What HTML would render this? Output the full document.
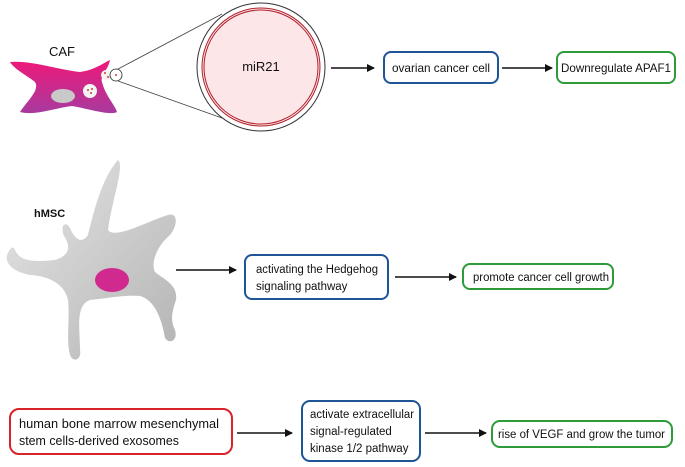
<!DOCTYPE html>
<html><head><meta charset="utf-8"><style>
html,body{margin:0;padding:0;background:#fff;}
svg{display:block;}
text{font-family:"Liberation Sans",sans-serif;fill:#111;}
</style></head><body>
<svg width="685" height="467" viewBox="0 0 685 467" xmlns="http://www.w3.org/2000/svg">
<defs>
<linearGradient id="pk" x1="0" y1="0" x2="0" y2="1">
<stop offset="0" stop-color="#ee1878"/><stop offset="1" stop-color="#a83a9e"/></linearGradient>
<linearGradient id="gr" x1="0" y1="0" x2="1" y2="1">
<stop offset="0" stop-color="#e6e6e6"/><stop offset="1" stop-color="#b4b4b4"/></linearGradient>
<marker id="ah" markerWidth="8" markerHeight="8" refX="7" refY="4" orient="auto" markerUnits="userSpaceOnUse">
<path d="M0,0 L8,4 L0,8 z" fill="#111"/></marker>
</defs>

<!-- CAF -->
<text x="62" y="56" font-size="13" text-anchor="middle">CAF</text>
<path d="M10,62 C30,60 60,70 80,72 C95,70 105,62 110,60 C108,70 100,76 102,82 C105,95 115,105 117,112 C110,116 85,108 72,106 C55,108 35,116 20,112 C28,100 40,90 35,82 C28,76 15,70 10,62 Z" fill="url(#pk)"/>
<ellipse cx="63" cy="96" rx="12" ry="7" fill="#c9c9c9"/>
<circle cx="90" cy="91" r="7" fill="#f3f3f3"/>
<circle cx="88" cy="90" r="0.9" fill="#c00"/><circle cx="91" cy="93" r="0.9" fill="#c00"/><circle cx="92" cy="89" r="0.9" fill="#c00"/>
<circle cx="106" cy="75" r="5" fill="#f3f3f3"/>
<circle cx="105" cy="73" r="0.9" fill="#c00"/><circle cx="108" cy="77" r="0.9" fill="#c00"/>
<circle cx="116" cy="75" r="6" fill="#fff" stroke="#222" stroke-width="0.8"/>
<circle cx="116" cy="75" r="0.9" fill="#c00"/>
<line x1="118" y1="69" x2="222" y2="14" stroke="#444" stroke-width="0.8"/>
<line x1="118" y1="81" x2="222" y2="118" stroke="#444" stroke-width="0.8"/>
<circle cx="261" cy="67" r="64" fill="#fff" stroke="#333" stroke-width="1"/>
<circle cx="261" cy="67" r="59" fill="#fde6e8" stroke="#b01f2a" stroke-width="1"/>
<circle cx="261" cy="67" r="57" fill="none" stroke="#b01f2a" stroke-width="1"/>
<text x="261" y="71" font-size="13" text-anchor="middle">miR21</text>
<line x1="331" y1="68" x2="374" y2="68" stroke="#111" stroke-width="1.5" marker-end="url(#ah)"/>
<rect x="384" y="52" width="114" height="31" rx="7" fill="#fff" stroke="#1f5597" stroke-width="2"/>
<text x="392" y="72" font-size="12" textLength="98" lengthAdjust="spacingAndGlyphs">ovarian cancer cell</text>
<line x1="502" y1="68" x2="552" y2="68" stroke="#111" stroke-width="1.5" marker-end="url(#ah)"/>
<rect x="557" y="52" width="118" height="31" rx="7" fill="#fff" stroke="#2e9b3a" stroke-width="2"/>
<text x="561" y="72" font-size="12" textLength="110" lengthAdjust="spacingAndGlyphs">Downregulate APAF1</text>

<!-- hMSC -->
<text x="34" y="217" font-size="11" font-weight="bold">hMSC</text>
<path d="M118,160 C125,165 112,200 108,230 C115,240 150,220 168,215 C178,212 178,225 170,235 C158,245 150,262 155,272 C165,280 178,285 176,300 C172,312 170,320 175,330 C178,340 170,345 165,338 C162,320 155,300 140,296 C120,295 110,298 90,300 C75,305 80,330 80,350 C82,360 73,363 70,355 C66,340 70,320 68,300 C65,285 50,276 30,275 C15,272 5,265 7,255 C10,248 13,245 15,250 C20,262 35,262 55,260 C68,256 72,248 64,236 C60,226 65,220 70,228 C75,240 82,244 88,235 C92,220 100,180 118,160 Z" fill="url(#gr)"/>
<ellipse cx="112" cy="280" rx="17" ry="12" fill="#d02a8e"/>
<line x1="176" y1="270" x2="236" y2="270" stroke="#111" stroke-width="1.5" marker-end="url(#ah)"/>
<rect x="245" y="255" width="143" height="44" rx="7" fill="#fff" stroke="#1f5597" stroke-width="2"/>
<text x="256" y="273" font-size="11.5" textLength="122" lengthAdjust="spacingAndGlyphs">activating the Hedgehog</text>
<text x="256" y="290" font-size="11.5">signaling pathway</text>
<line x1="395" y1="277" x2="456" y2="277" stroke="#111" stroke-width="1.5" marker-end="url(#ah)"/>
<rect x="463" y="264" width="150" height="25" rx="7" fill="#fff" stroke="#2e9b3a" stroke-width="2"/>
<text x="473" y="281" font-size="11.5" textLength="136" lengthAdjust="spacingAndGlyphs">promote cancer cell growth</text>

<!-- row 3 -->
<rect x="10" y="409" width="222" height="45" rx="9" fill="#fff" stroke="#d9232a" stroke-width="2"/>
<text x="19" y="428" font-size="12.5" textLength="200" lengthAdjust="spacingAndGlyphs">human bone marrow mesenchymal</text>
<text x="19" y="445" font-size="12.5" textLength="160" lengthAdjust="spacingAndGlyphs">stem cells-derived exosomes</text>
<line x1="237" y1="433" x2="292" y2="433" stroke="#111" stroke-width="1.5" marker-end="url(#ah)"/>
<rect x="302" y="401" width="118" height="60" rx="8" fill="#fff" stroke="#1f5597" stroke-width="2"/>
<text x="310" y="418" font-size="11.5" textLength="104" lengthAdjust="spacingAndGlyphs">activate extracellular</text>
<text x="310" y="435" font-size="11.5">signal-regulated</text>
<text x="310" y="452" font-size="11.5">kinase 1/2 pathway</text>
<line x1="425" y1="433" x2="486" y2="433" stroke="#111" stroke-width="1.5" marker-end="url(#ah)"/>
<rect x="492" y="421" width="180" height="26" rx="8" fill="#fff" stroke="#2e9b3a" stroke-width="2"/>
<text x="498" y="438" font-size="11.5" textLength="167" lengthAdjust="spacingAndGlyphs">rise of VEGF and grow the tumor</text>
</svg>
</body></html>
